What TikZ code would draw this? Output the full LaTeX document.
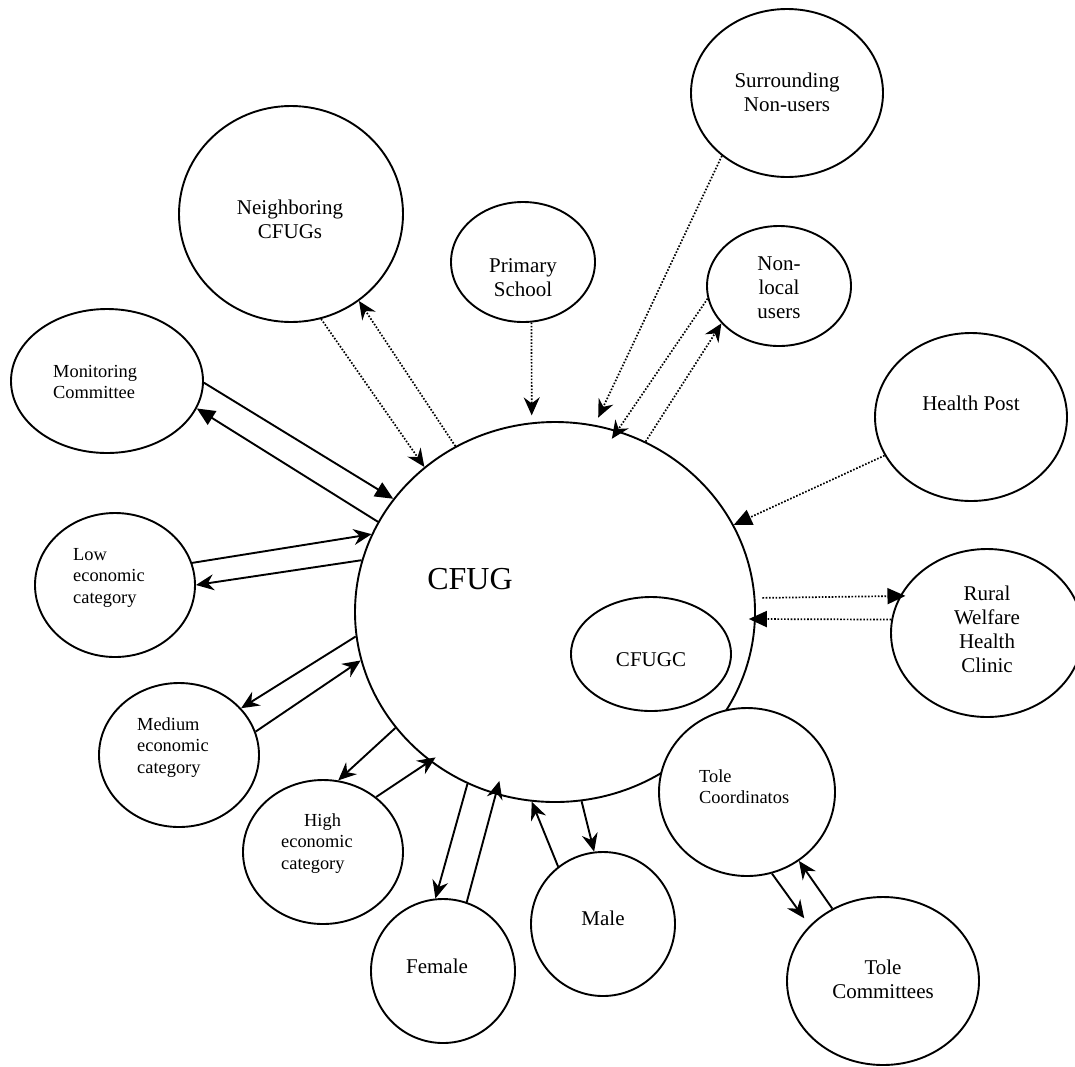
\documentclass[tikz,border=0pt]{standalone}
\usepackage{fontspec}
\setmainfont{Liberation Serif}
\usetikzlibrary{arrows.meta,shapes.geometric}

\begin{document}
\begin{tikzpicture}[x=1pt,y=-1pt,
  bubble/.style={draw, ellipse, line width=1.9pt, inner sep=0pt, fill=white},
  txt/.style={inner sep=0pt, font=\fontsize{21}{24}\selectfont, align=center, anchor=north},
  small/.style={inner sep=0pt, font=\fontsize{18.4}{21.5}\selectfont, align=left, anchor=north west},
  solidln/.style={draw, line width=1.9pt},
  dots/.style={draw, line width=1.7pt, dash pattern=on 1.6pt off 1.7pt},
  barb/.style={-{Stealth[length=18pt,width=16pt,inset=6pt]}},
  tri/.style={-{Triangle[length=18pt,width=16pt]}}]

\useasboundingbox (0,0) rectangle (1075,1066);
\clip (0,0) rectangle (1075,1066);

% outer bubbles
\node[bubble, minimum width=224pt, minimum height=216pt] (nb) at (291,214) {};
\node[bubble, minimum width=144pt, minimum height=120pt] (ps) at (523,262) {};
\node[bubble, minimum width=192pt, minimum height=168pt] (sur) at (787,93) {};
\node[bubble, minimum width=144pt, minimum height=120pt] (nl) at (779,286) {};
\node[bubble, minimum width=192pt, minimum height=168pt] (hp) at (971,417) {};
\node[bubble, minimum width=192pt, minimum height=168pt] (rw) at (987,633) {};
\node[bubble, minimum width=192pt, minimum height=144pt] (mon) at (107,381) {};
\node[bubble, minimum width=160pt, minimum height=144pt] (low) at (115,585) {};
\node[bubble, minimum width=160pt, minimum height=144pt] (med) at (179,755) {};
\node[bubble, minimum width=160pt, minimum height=144pt] (high) at (323,852) {};
\node[bubble, minimum width=144pt, minimum height=144pt] (fem) at (443,971) {};
\node[bubble, minimum width=144pt, minimum height=144pt] (male) at (603,924) {};

% the user group, its committee, and the tole bubbles
\node[bubble, minimum width=400pt, minimum height=380pt] (cfug) at (555,612) {};
\node[bubble, minimum width=160pt, minimum height=114pt] (cfugc) at (651,654) {};
\node[bubble, minimum width=176pt, minimum height=168pt] (tco) at (747,792) {};
\node[bubble, minimum width=192pt, minimum height=168pt] (tcm) at (883,981) {};

% labels
\node[txt] (nb-t) at (290,197.2) {\strut Neighboring\\CFUGs};
\node[txt] (ps-t) at (523,255.2) {\strut Primary\\School};
\node[txt] (sur-t) at (787,70.2) {\strut Surrounding\\Non-users};
\node[txt] (nl-t) at (779,253.2) {\strut Non-\\local\\users};
\node[txt] (hp-t) at (971,393.2) {\strut Health Post};
\node[txt] (rw-t) at (987,583.2) {\strut Rural\\Welfare\\Health\\Clinic};
\node[small] (mon-t) at (53,362) {\strut Monitoring\\Committee};
\node[small] (low-t) at (73,545) {\strut Low\\economic\\category};
\node[small] (med-t) at (137,715) {\strut Medium\\economic\\category};
\node[small] (high-t) at (281,811) {\strut\hspace*{23pt}High\\economic\\category};
\node[txt] (fem-t) at (437,956.2) {\strut Female};
\node[txt] (male-t) at (603,908.2) {\strut Male};
\node[small] (tco-t) at (699,767) {\strut Tole\\Coordinatos};
\node[txt] (tcm-t) at (883,957.2) {\strut Tole\\Committees};
\node[txt] (cfugc-t) at (651,649.2) {\strut CFUGC};
\node[txt, font=\fontsize{32}{38}\selectfont] (cfug-t) at (470,562.4) {\strut CFUG};

% solid two-way links
\draw[solidln,tri] (mon.-1) -- (cfug.145.3);
\draw[solidln,tri] (cfug.153.8) -- (mon.-17);
\draw[solidln,barb] (low.16) -- (cfug.157.9);
\draw[solidln,barb] (cfug.165.9) -- (low.0);
\draw[solidln,barb] (cfug.-173.7) -- (med.37.6);
\draw[solidln,barb] (med.17.6) -- (cfug.-166.8);
\draw[solidln,barb] (cfug.-144.9) -- (high.78);
\draw[solidln,barb,shorten >=-7pt] (high.46.2) -- (cfug.-130.5);
\draw[solidln,barb] (cfug.-117.9) -- (fem.96.3);
\draw[solidln,barb,shorten >=-14pt] (fem.71.6) -- (cfug.-108.85);
\draw[solidln,barb] (male.128.7) -- (cfug.-97.2);
\draw[solidln,barb] (cfug.-82.5) -- (male.97.5);
\draw[solidln,barb,shorten >=9pt] (tco.-73) -- (tcm.143.5);
\draw[solidln,barb] (tcm.125.6) -- (tco.-53.4);

% dotted links
\draw[dots,barb] (nb.-74) -- (cfug.132.8);
\draw[dots,barb] (cfug.121.3) -- (nb.-52.5);
\draw[dots,barb,shorten >=7pt] (ps.-82.5) -- (cfug.97);
\draw[dots,barb,shorten >=8pt] (sur.-136.8) -- (cfug.78.4);
\draw[dots,barb,shorten >=-10pt] (nl.-170.4) -- (cfug.71.6);
\draw[dots,barb] (cfug.62.2) -- (nl.-147);
\draw[dots,tri] (hp.-156) -- (cfug.26.4);
\draw[dots,tri,shorten <=7pt,shorten >=-5.7pt] (cfug.4.3) -- (rw.157.45);
\draw[dots,tri,shorten >=-7pt] (rw.172.8) -- (cfug.-2.58);
\end{tikzpicture}
\end{document}
